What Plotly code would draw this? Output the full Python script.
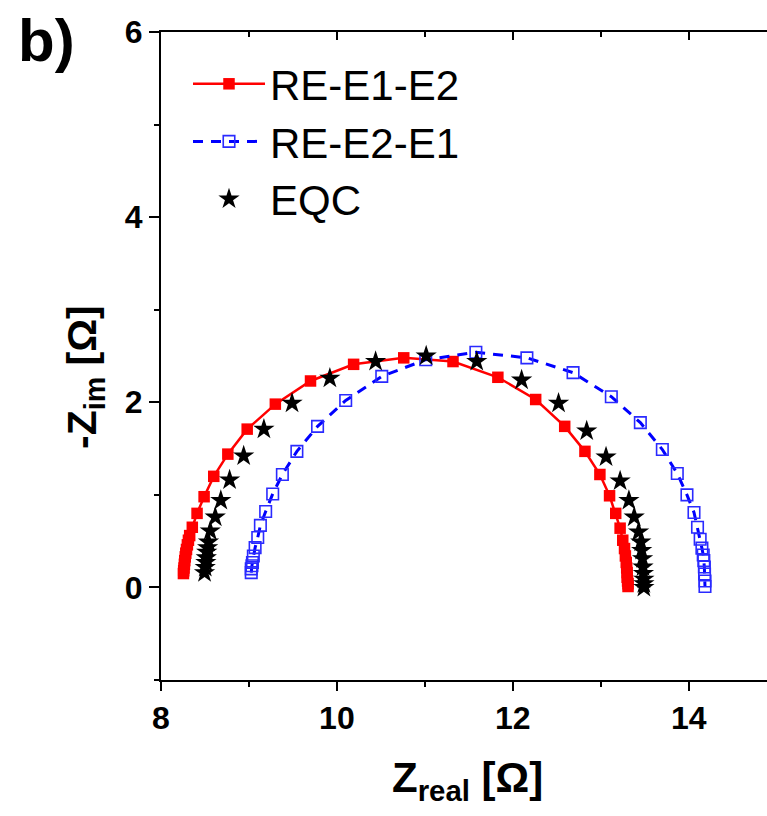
import plotly.graph_objects as go

# ---- data ----
red_x = [8.255, 8.258, 8.262, 8.266, 8.27, 8.276, 8.282, 8.29, 8.30, 8.312, 8.326, 8.356, 8.41, 8.49, 8.60, 8.76, 8.98, 9.30,
         9.70, 10.19, 10.76, 11.32, 11.83, 12.26, 12.59, 12.82, 12.99, 13.10, 13.17, 13.22, 13.25, 13.27, 13.28, 13.29,
         13.295, 13.30, 13.30, 13.305, 13.31, 13.31]
red_y = [0.15, 0.18, 0.21, 0.25, 0.29, 0.33, 0.37, 0.41, 0.46, 0.51, 0.56, 0.65, 0.80, 0.98, 1.20, 1.44, 1.71, 1.98,
         2.23, 2.41, 2.48, 2.44, 2.27, 2.03, 1.74, 1.47, 1.22, 0.99, 0.80, 0.64, 0.51, 0.42, 0.34, 0.27,
         0.21, 0.16, 0.11, 0.07, 0.04, 0.01]

blue_x = [9.026, 9.026, 9.034, 9.04, 9.05, 9.07, 9.10, 9.13, 9.19, 9.27, 9.38, 9.545, 9.78, 10.10, 10.51, 11.01, 11.58,
          12.16, 12.685, 13.12, 13.45, 13.70, 13.87, 13.98, 14.06, 14.10, 14.13, 14.15, 14.165, 14.172, 14.178, 14.18,
          14.185, 14.185]
blue_y = [0.16, 0.20, 0.234, 0.27, 0.34, 0.43, 0.54, 0.67, 0.82, 1.01, 1.22, 1.47, 1.74, 2.02, 2.28, 2.46, 2.54,
          2.48, 2.32, 2.06, 1.78, 1.49, 1.23, 1.00, 0.81, 0.65, 0.52, 0.425, 0.35, 0.29, 0.22, 0.145,
          0.07, 0.01]

eqc_x = [8.495, 8.503, 8.51, 8.515, 8.52, 8.53, 8.54, 8.56, 8.617, 8.68, 8.78, 8.94, 9.17, 9.49, 9.92, 10.44, 11.015,
         11.59, 12.10, 12.52, 12.84, 13.06, 13.22, 13.32, 13.38, 13.43, 13.455, 13.465, 13.475, 13.48, 13.485, 13.49,
         13.49, 13.49]
eqc_y = [0.16, 0.216, 0.27, 0.32, 0.38, 0.43, 0.49, 0.61, 0.76, 0.94, 1.16, 1.42, 1.71, 1.99, 2.26, 2.44, 2.50,
         2.44, 2.24, 1.99, 1.69, 1.41, 1.15, 0.94, 0.76, 0.60, 0.49, 0.40, 0.31, 0.22, 0.15, 0.09,
         0.04, 0.0]

series_names = ["RE-E1-E2", "RE-E2-E1", "EQC"]
x_ticks = [8, 10, 12, 14]
y_ticks = [0, 2, 4, 6]
x_range = [8, 14.89]
y_range = [-1, 6]

FONT = "Liberation Sans, Arial, sans-serif"
W, H = 767, 816
ML, MR, MT, MB = 161, 0, 32, 136
PW, PH = W - ML - MR, H - MT - MB


def px(p):
    return (p - ML) / PW


def py(p):
    return (H - MB - p) / PH


fig = go.Figure()
fig.add_trace(go.Scatter(
    x=red_x, y=red_y, name=series_names[0], mode="lines+markers",
    line=dict(color="#ff0000", width=2.5),
    marker=dict(symbol="square", size=11.5, color="#ff0000"),
))
fig.add_trace(go.Scatter(
    x=blue_x, y=blue_y, name=series_names[1], mode="lines+markers",
    line=dict(color="#0000ff", width=3, dash="10px,8px"),
    marker=dict(symbol="square-open", size=11.5, color="#2a2aff", line=dict(width=1.6, color="#2a2aff")),
))
fig.add_trace(go.Scatter(
    x=eqc_x, y=eqc_y, name=series_names[2], mode="markers",
    marker=dict(symbol="star", size=16, color="black", line=dict(width=0)),
))
# helper trace to carry the top (inside-tick) axis
fig.add_trace(go.Scatter(x=[None], y=[None], xaxis="x2", showlegend=False, hoverinfo="skip"))

axis_common = dict(showgrid=False, zeroline=False, showline=True, linecolor="black", linewidth=2,
                   tickcolor="black", tickwidth=2)

fig.update_layout(
    width=W, height=H,
    margin=dict(l=ML, r=MR, t=MT, b=MB, pad=0),
    paper_bgcolor="white", plot_bgcolor="white",
    font=dict(family=FONT, color="black"),
    xaxis=dict(range=x_range, tickvals=x_ticks, ticks="outside", ticklen=9,
               tickfont=dict(family=FONT, size=32, color="black", weight="bold"),
               minor=dict(dtick=1, tick0=8, ticks="outside", ticklen=5, tickwidth=2, tickcolor="black"),
               **axis_common),
    xaxis2=dict(range=x_range, overlaying="x", side="top", tickvals=x_ticks, ticks="inside", ticklen=8,
                showticklabels=False,
                minor=dict(dtick=1, tick0=8, ticks="inside", ticklen=5, tickwidth=2, tickcolor="black"),
                **axis_common),
    yaxis=dict(range=y_range, tickvals=y_ticks, ticks="outside", ticklen=10,
               tickfont=dict(family=FONT, size=32, color="black", weight="bold"),
               minor=dict(dtick=1, tick0=-1, ticks="outside", ticklen=5, tickwidth=2, tickcolor="black"),
               **axis_common),
    legend=dict(x=px(188), y=py(50), xanchor="left", yanchor="top",
                bgcolor="rgba(0,0,0,0)", font=dict(family=FONT, size=42, color="black"),
                itemwidth=72, tracegroupgap=0),
    showlegend=True,
)

fig.add_annotation(text="<b>Z<sub>real</sub> [Ω]</b>", xref="paper", yref="paper",
                   x=px(467), y=py(780), xanchor="center", yanchor="middle", showarrow=False,
                   font=dict(family=FONT, size=42, color="black"))
fig.add_annotation(text="<b>-Z<sub>im</sub> [Ω]</b>", xref="paper", yref="paper",
                   x=px(85), y=py(377), xanchor="center", yanchor="middle", showarrow=False, textangle=-90,
                   font=dict(family=FONT, size=41, color="black"))
fig.add_annotation(text="<b>b)</b>", xref="paper", yref="paper",
                   x=px(46), y=py(40), xanchor="center", yanchor="middle", showarrow=False,
                   font=dict(family=FONT, size=60, color="black"))

fig.write_html("out.html")
